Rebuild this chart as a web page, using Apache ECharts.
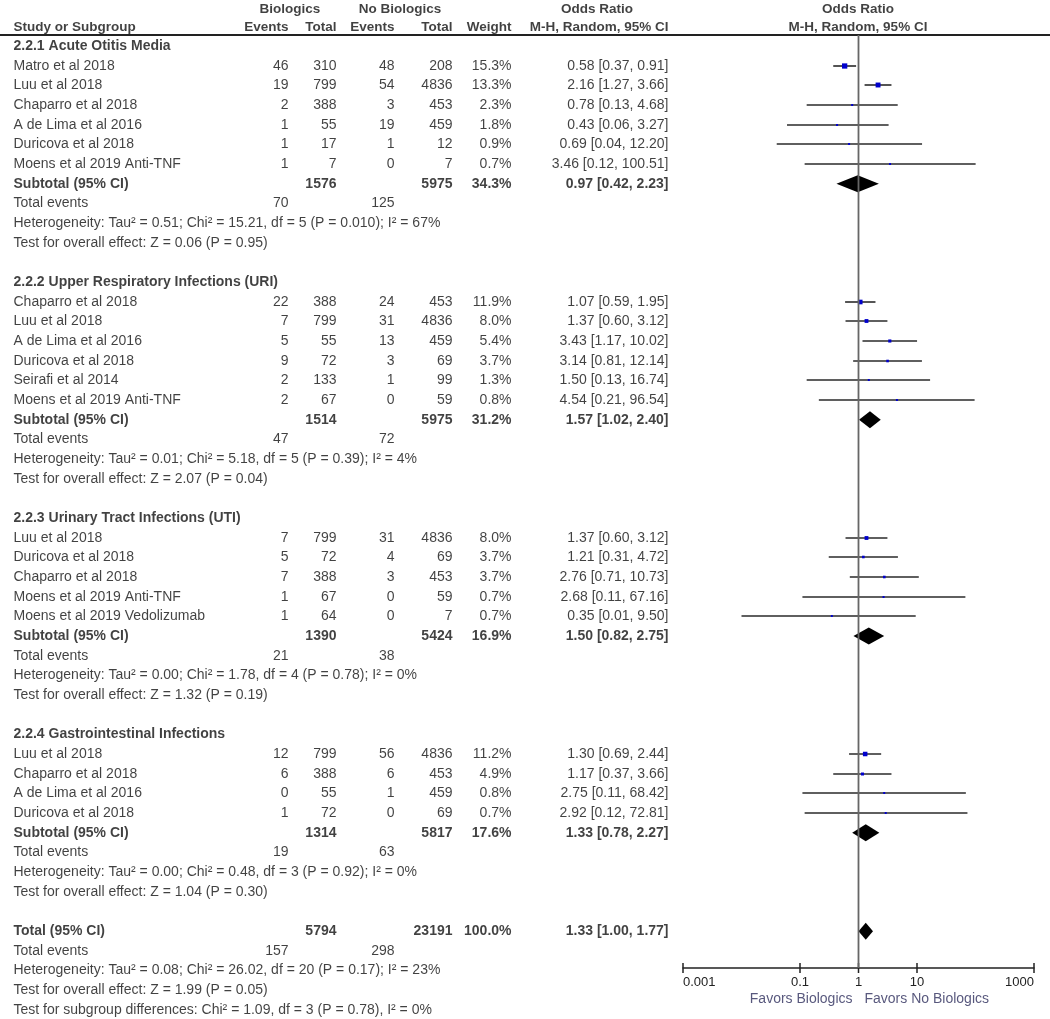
<!DOCTYPE html>
<html><head><meta charset="utf-8">
<script src="https://cdn.jsdelivr.net/npm/echarts@6/dist/echarts.min.js"></script>
<style>html,body{margin:0;padding:0;background:#fff}#c{width:1050px;height:1019px}</style>
</head><body><div id="c"></div>
<script>
// ---------------- DATA ----------------
const subgroupNames = ['2.2.1 Acute Otitis Media', '2.2.2 Upper Respiratory Infections (URI)', '2.2.3 Urinary Tract Infections (UTI)', '2.2.4 Gastrointestinal Infections'];
const studyGroup = [0,0,0,0,0,0, 1,1,1,1,1,1, 2,2,2,2,2, 3,3,3,3];
const studyNames = ['Matro et al 2018','Luu et al 2018','Chaparro et al 2018','A de Lima et al 2016','Duricova et al 2018','Moens et al 2019 Anti-TNF',
  'Chaparro et al 2018','Luu et al 2018','A de Lima et al 2016','Duricova et al 2018','Seirafi et al 2014','Moens et al 2019 Anti-TNF',
  'Luu et al 2018','Duricova et al 2018','Chaparro et al 2018','Moens et al 2019 Anti-TNF','Moens et al 2019 Vedolizumab',
  'Luu et al 2018','Chaparro et al 2018','A de Lima et al 2016','Duricova et al 2018'];
const bioEvents = [46,19,2,1,1,1, 22,7,5,9,2,2, 7,5,7,1,1, 12,6,0,1];
const bioTotal  = [310,799,388,55,17,7, 388,799,55,72,133,67, 799,72,388,67,64, 799,388,55,72];
const noEvents  = [48,54,3,19,1,0, 24,31,13,3,1,0, 31,4,3,0,0, 56,6,1,0];
const noTotal   = [208,4836,453,459,12,7, 453,4836,459,69,99,59, 4836,69,453,59,7, 4836,453,459,69];
const weights   = [15.3,13.3,2.3,1.8,0.9,0.7, 11.9,8.0,5.4,3.7,1.3,0.8, 8.0,3.7,3.7,0.7,0.7, 11.2,4.9,0.8,0.7];
const orVal     = [0.58,2.16,0.78,0.43,0.69,3.46, 1.07,1.37,3.43,3.14,1.50,4.54, 1.37,1.21,2.76,2.68,0.35, 1.30,1.17,2.75,2.92];
const ciLo      = [0.37,1.27,0.13,0.06,0.04,0.12, 0.59,0.60,1.17,0.81,0.13,0.21, 0.60,0.31,0.71,0.11,0.01, 0.69,0.37,0.11,0.12];
const ciHi      = [0.91,3.66,4.68,3.27,12.20,100.51, 1.95,3.12,10.02,12.14,16.74,96.54, 3.12,4.72,10.73,67.16,9.50, 2.44,3.66,68.42,72.81];

const subBioTotal  = [1576,1514,1390,1314];
const subNoTotal   = [5975,5975,5424,5817];
const subWeight    = [34.3,31.2,16.9,17.6];
const subOR        = [0.97,1.57,1.50,1.33];
const subLo        = [0.42,1.02,0.82,0.78];
const subHi        = [2.23,2.40,2.75,2.27];
const subBioEvents = [70,47,21,19];
const subNoEvents  = [125,72,38,63];
const subHet = ['Heterogeneity: Tau² = 0.51; Chi² = 15.21, df = 5 (P = 0.010); I² = 67%',
  'Heterogeneity: Tau² = 0.01; Chi² = 5.18, df = 5 (P = 0.39); I² = 4%',
  'Heterogeneity: Tau² = 0.00; Chi² = 1.78, df = 4 (P = 0.78); I² = 0%',
  'Heterogeneity: Tau² = 0.00; Chi² = 0.48, df = 3 (P = 0.92); I² = 0%'];
const subTest = ['Test for overall effect: Z = 0.06 (P = 0.95)','Test for overall effect: Z = 2.07 (P = 0.04)',
  'Test for overall effect: Z = 1.32 (P = 0.19)','Test for overall effect: Z = 1.04 (P = 0.30)'];

const totBioTotal = 5794, totNoTotal = 23191, totWeight = 100.0;
const totOR = 1.33, totLo = 1.00, totHi = 1.77;
const totBioEvents = 157, totNoEvents = 298;
const totLines = ['Heterogeneity: Tau² = 0.08; Chi² = 26.02, df = 20 (P = 0.17); I² = 23%',
  'Test for overall effect: Z = 1.99 (P = 0.05)',
  'Test for subgroup differences: Chi² = 1.09, df = 3 (P = 0.78), I² = 0%'];

const tickVals = [0.001, 0.1, 1, 10, 1000];
const tickLabels = ['0.001','0.1','1','10','1000'];
const favorLeft = 'Favors Biologics', favorRight = 'Favors No Biologics';

// ---------------- LAYOUT ----------------
const ROW0 = 46, ROWH = 19.67;
const rowY = r => ROW0 + r * ROWH;
const COL = {name: 13, ev1: 289, tot1: 337, ev2: 395, tot2: 453, wt: 512, ci: 669};
const F_REG = "'Liberation Sans', Arial, sans-serif";
const F_BOLD = "'Liberation Sans', Arial, sans-serif";
const FOREST_TOP = 35, FOREST_BOTTOM = 968;

const texts = [];
function T(x, y, text, align, bold, color, size) {
  texts.push({
    value: [x, y],
    label: {
      show: true, formatter: String(text),
      position: align === 'left' ? 'right' : (align === 'right' ? 'left' : 'inside'),
      distance: 0,
      fontWeight: bold ? 'bold' : 'normal',
      fontFamily: bold ? F_BOLD : F_REG,
      fontSize: size || (bold ? 14 : 14),
      color: color || '#111'
    }
  });
}
const ciText = (o, l, h) => o.toFixed(2) + ' [' + l.toFixed(2) + ', ' + h.toFixed(2) + ']';
const HS = 13.5; // header font size

// header
T(290, 9, 'Biologics', 'center', true, null, HS);
T(400, 9, 'No Biologics', 'center', true, null, HS);
T(597, 9, 'Odds Ratio', 'center', true, null, HS);
T(858, 9, 'Odds Ratio', 'center', true, null, HS);
T(COL.name, 27, 'Study or Subgroup', 'left', true, null, HS);
T(COL.ev1, 27, 'Events', 'right', true, null, HS);
T(COL.tot1, 27, 'Total', 'right', true, null, HS);
T(COL.ev2, 27, 'Events', 'right', true, null, HS);
T(COL.tot2, 27, 'Total', 'right', true, null, HS);
T(COL.wt, 27, 'Weight', 'right', true, null, HS);
T(COL.ci, 27, 'M-H, Random, 95% CI', 'right', true, null, HS);
T(858, 27, 'M-H, Random, 95% CI', 'center', true, null, HS);

const studyPts = [], diamondPts = [];
let r = 0;
for (let g = 0; g < subgroupNames.length; g++) {
  T(COL.name, rowY(r), subgroupNames[g], 'left', true);
  r++;
  for (let i = 0; i < studyNames.length; i++) {
    if (studyGroup[i] !== g) continue;
    const y = rowY(r);
    T(COL.name, y, studyNames[i], 'left');
    T(COL.ev1, y, bioEvents[i], 'right');
    T(COL.tot1, y, bioTotal[i], 'right');
    T(COL.ev2, y, noEvents[i], 'right');
    T(COL.tot2, y, noTotal[i], 'right');
    T(COL.wt, y, weights[i].toFixed(1) + '%', 'right');
    T(COL.ci, y, ciText(orVal[i], ciLo[i], ciHi[i]), 'right');
    studyPts.push([orVal[i], y, ciLo[i], ciHi[i], weights[i]]);
    r++;
  }
  let y = rowY(r);
  T(COL.name, y, 'Subtotal (95% CI)', 'left', true);
  T(COL.tot1, y, subBioTotal[g], 'right', true);
  T(COL.tot2, y, subNoTotal[g], 'right', true);
  T(COL.wt, y, subWeight[g].toFixed(1) + '%', 'right', true);
  T(COL.ci, y, ciText(subOR[g], subLo[g], subHi[g]), 'right', true);
  diamondPts.push([subOR[g], y, subLo[g], subHi[g]]);
  r++;
  y = rowY(r);
  T(COL.name, y, 'Total events', 'left');
  T(COL.ev1, y, subBioEvents[g], 'right');
  T(COL.ev2, y, subNoEvents[g], 'right');
  r++;
  T(COL.name, rowY(r), subHet[g], 'left'); r++;
  T(COL.name, rowY(r), subTest[g], 'left'); r++;
  r++; // blank
}
{
  let y = rowY(r);
  T(COL.name, y, 'Total (95% CI)', 'left', true);
  T(COL.tot1, y, totBioTotal, 'right', true);
  T(COL.tot2, y, totNoTotal, 'right', true);
  T(COL.wt, y, totWeight.toFixed(1) + '%', 'right', true);
  T(COL.ci, y, ciText(totOR, totLo, totHi), 'right', true);
  diamondPts.push([totOR, y, totLo, totHi]);
  r++;
  y = rowY(r);
  T(COL.name, y, 'Total events', 'left');
  T(COL.ev1, y, totBioEvents, 'right');
  T(COL.ev2, y, totNoEvents, 'right');
  r++;
  for (const s of totLines) { T(COL.name, rowY(r), s, 'left'); r++; }
}
T(853, 999, favorLeft, 'right', false, '#2e2e5c');
T(864, 999, favorRight, 'left', false, '#2e2e5c');

// ---------------- CHART ----------------
const chart = echarts.init(document.getElementById('c'), null, {renderer: 'canvas'});
chart.setOption({
  animation: false,
  backgroundColor: '#fff',
  graphic: [{type: 'rect', shape: {x: 0, y: 34, width: 1050, height: 2}, style: {fill: '#222'}, silent: true}],
  grid: [
    {left: 0, right: 0, top: 0, bottom: 0},
    {left: 683, width: 351, top: FOREST_TOP, height: FOREST_BOTTOM - FOREST_TOP}
  ],
  xAxis: [
    {gridIndex: 0, type: 'value', min: 0, max: 1050, show: false},
    {gridIndex: 1, type: 'log', logBase: 10, min: 0.001, max: 1000, position: 'bottom',
      axisLine: {show: true, lineStyle: {color: '#222', width: 1.5}},
      axisTick: {show: false},
      splitLine: {show: false},
      axisLabel: {show: true, customValues: tickVals, margin: 8, color: '#222', fontSize: 13, fontFamily: F_REG,
        alignMinLabel: 'left', alignMaxLabel: 'right',
        formatter: v => { const i = tickVals.findIndex(t => Math.abs(Math.log10(t) - Math.log10(v)) < 1e-6); return i >= 0 ? tickLabels[i] : ''; }}
    }
  ],
  yAxis: [
    {gridIndex: 0, type: 'value', min: 0, max: 1019, inverse: true, show: false},
    {gridIndex: 1, type: 'value', min: FOREST_TOP, max: FOREST_BOTTOM, inverse: true, show: false}
  ],
  series: [
    {type: 'scatter', xAxisIndex: 0, yAxisIndex: 0, symbolSize: 1, itemStyle: {color: 'rgba(0,0,0,0)'},
      silent: true, data: texts},
    {type: 'line', xAxisIndex: 1, yAxisIndex: 1, symbol: 'none', silent: true,
      lineStyle: {color: '#666', width: 1.8}, data: [[1, FOREST_TOP], [1, FOREST_BOTTOM]]},
    {type: 'custom', xAxisIndex: 1, yAxisIndex: 1, silent: true, clip: false,
      encode: {x: [0, 2, 3], y: 1},
      data: studyPts,
      renderItem: (params, api) => {
        const y = api.value(1);
        const p = api.coord([api.value(0), y]);
        const a = api.coord([api.value(2), y]);
        const b = api.coord([api.value(3), y]);
        const s = Math.max(2, 1.35 * Math.sqrt(api.value(4)));
        const ly = Math.round(p[1]);
        return {type: 'group', children: [
          {type: 'line', shape: {x1: a[0], y1: ly, x2: b[0], y2: ly}, style: {stroke: '#2a2a2a', lineWidth: 1.6}},
          {type: 'rect', shape: {x: p[0] - s / 2, y: ly - s / 2, width: s, height: s}, style: {fill: '#0000cc'}}
        ]};
      }},
    {type: 'custom', xAxisIndex: 1, yAxisIndex: 1, silent: true, clip: false,
      encode: {x: [0, 2, 3], y: 1},
      data: diamondPts,
      renderItem: (params, api) => {
        const y = api.value(1);
        const p = api.coord([api.value(0), y]);
        const a = api.coord([api.value(2), y]);
        const b = api.coord([api.value(3), y]);
        const h = 8.5;
        return {type: 'polygon', shape: {points: [[a[0], p[1]], [p[0], p[1] - h], [b[0], p[1]], [p[0], p[1] + h]]},
          style: {fill: '#000'}};
      }},
    {type: 'custom', xAxisIndex: 1, yAxisIndex: 1, silent: true, clip: false,
      data: tickVals.map(v => [v, FOREST_BOTTOM]),
      renderItem: (params, api) => {
        const p = api.coord([api.value(0), api.value(1)]);
        return {type: 'line', shape: {x1: p[0], y1: p[1] - 5, x2: p[0], y2: p[1] + 5}, style: {stroke: '#222', lineWidth: 1.5}};
      }}
  ]
});
</script></body></html>
